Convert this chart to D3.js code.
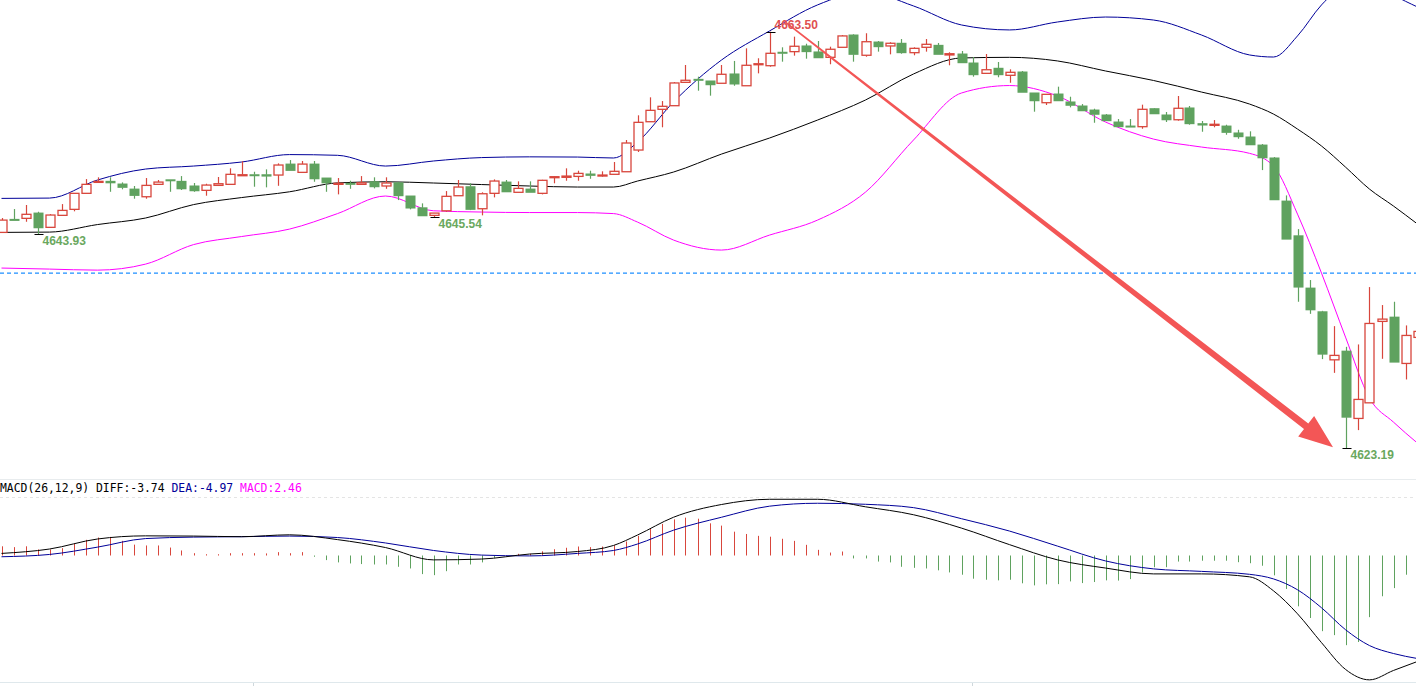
<!DOCTYPE html>
<html><head><meta charset="utf-8">
<script src="https://cdn.jsdelivr.net/npm/d3@7"></script>
<style>html,body{margin:0;padding:0;background:#fff;overflow:hidden}</style>
</head><body>
<svg id="c" width="1416" height="686"></svg>
<script>
// ---- data ----
const open  = [4644.08,4645.34,4645.44,4645.95,4644.57,4645.73,4646.31,4647.86,4648.92,4649.02,4648.76,4648.27,4647.53,4648.73,4649.17,4649.02,4648.57,4648.15,4648.63,4648.73,4649.60,4649.66,4649.66,4649.63,4650.69,4649.89,4650.69,4649.34,4648.73,4648.83,4648.73,4648.98,4648.57,4648.88,4647.60,4646.46,4645.73,4646.17,4647.63,4648.50,4646.37,4647.86,4648.95,4647.96,4648.27,4647.86,4649.41,4649.41,4649.50,4649.73,4649.56,4649.70,4649.95,4652.05,4654.79,4655.99,4656.34,4658.60,4658.89,4658.73,4658.51,4659.41,4658.27,4660.35,4660.21,4661.51,4661.57,4662.12,4661.54,4661.02,4661.99,4663.18,4661.22,4662.50,4662.12,4662.38,4661.47,4661.99,4662.18,4661.25,4661.34,4660.47,4659.47,4659.96,4659.28,4659.60,4657.57,4656.63,4657.47,4656.70,4656.31,4655.92,4655.44,4654.76,4654.37,4654.31,4656.05,4655.44,4654.98,4656.12,4654.60,4654.44,4654.37,4653.70,4653.31,4652.53,4651.28,4647.11,4643.75,4638.69,4636.40,4631.75,4632.59,4626.08,4627.59,4635.47,4635.88,4631.40,4633.92];
const close = [4645.27,4645.24,4645.83,4644.53,4645.76,4646.21,4647.86,4648.73,4649.02,4648.88,4648.44,4647.66,4648.63,4648.95,4649.12,4648.30,4648.11,4648.66,4648.79,4649.70,4649.66,4649.60,4649.53,4650.60,4650.08,4650.69,4649.27,4648.88,4648.83,4648.73,4648.88,4648.50,4648.86,4647.63,4646.44,4645.69,4645.95,4647.57,4648.47,4646.31,4647.82,4649.05,4648.01,4648.34,4647.96,4649.12,4649.47,4649.53,4649.79,4649.60,4649.63,4649.99,4652.73,4654.73,4655.89,4656.28,4658.54,4658.80,4658.80,4658.37,4659.38,4658.44,4660.25,4660.40,4661.41,4661.41,4662.09,4661.57,4660.98,4661.80,4663.09,4661.31,4662.53,4662.05,4662.38,4661.47,4661.89,4662.28,4661.31,4661.37,4660.50,4659.34,4659.82,4659.34,4659.57,4657.64,4656.82,4657.44,4656.82,4656.38,4655.85,4655.51,4654.89,4654.31,4654.31,4655.99,4655.56,4654.98,4656.09,4654.60,4654.47,4654.54,4653.76,4653.34,4652.56,4651.30,4647.24,4643.43,4638.79,4636.59,4632.30,4632.18,4626.20,4627.92,4635.27,4635.69,4631.53,4634.11,4634.50];
const high  = [4645.47,4646.34,4646.73,4646.08,4645.85,4646.82,4647.86,4649.24,4649.41,4649.41,4648.92,4648.57,4649.34,4649.15,4649.17,4649.53,4648.86,4648.79,4649.44,4650.28,4650.96,4649.95,4650.18,4650.76,4651.08,4650.99,4650.99,4649.34,4649.34,4649.08,4649.53,4649.41,4649.41,4648.98,4647.60,4646.89,4645.95,4648.08,4649.15,4648.83,4647.96,4649.21,4649.15,4649.02,4649.02,4649.17,4649.53,4650.28,4650.05,4650.05,4649.99,4650.89,4653.02,4655.41,4657.15,4656.79,4658.63,4660.28,4659.15,4658.73,4660.28,4660.67,4661.89,4660.93,4663.50,4661.99,4663.02,4662.34,4662.60,4662.05,4663.18,4663.25,4663.35,4662.60,4662.48,4662.79,4661.99,4662.79,4662.41,4661.51,4661.63,4661.05,4661.34,4660.57,4659.86,4659.70,4657.57,4657.44,4658.18,4657.21,4656.50,4656.05,4655.53,4655.05,4655.05,4656.44,4656.12,4655.73,4657.28,4656.31,4654.86,4654.95,4654.50,4654.01,4653.86,4652.63,4651.37,4647.66,4644.40,4639.47,4636.49,4635.01,4633.01,4633.24,4638.79,4637.05,4637.37,4635.08,4635.11];
const low   = [4644.02,4645.24,4645.11,4643.93,4644.57,4645.73,4646.12,4647.86,4648.92,4648.01,4648.25,4647.34,4647.34,4648.73,4648.01,4648.18,4648.01,4647.63,4648.63,4648.73,4649.60,4648.50,4648.44,4648.59,4650.08,4649.89,4648.98,4648.01,4647.76,4648.30,4648.73,4648.34,4648.30,4647.21,4646.31,4645.69,4645.54,4646.08,4647.63,4646.24,4645.73,4647.47,4648.01,4647.96,4647.96,4647.76,4648.83,4649.08,4649.08,4649.27,4649.47,4649.70,4649.95,4651.86,4654.79,4654.25,4656.34,4658.60,4657.79,4657.31,4658.51,4658.27,4658.27,4659.47,4660.11,4660.60,4661.18,4660.89,4660.98,4660.35,4661.99,4660.60,4661.08,4661.57,4661.31,4661.37,4661.22,4661.57,4661.31,4660.25,4660.50,4659.15,4659.47,4659.09,4658.56,4657.64,4655.76,4656.41,4656.82,4656.18,4655.85,4654.69,4654.89,4654.31,4654.31,4654.11,4655.56,4654.76,4654.89,4654.50,4653.82,4654.25,4653.53,4653.14,4652.56,4650.11,4647.24,4643.43,4637.37,4636.20,4631.82,4630.49,4623.19,4624.95,4627.59,4631.85,4631.53,4629.85,4633.66];
const sampleIdx = [0,4,8,12,16,20,24,28,32,36,40,44,48,51,53,56,60,64,68,72,76,80,84,88,92,96,100,104,106,108,110,112,114,116,118];
const bollUpper = [4647.37,4647.40,4649.15,4650.21,4650.50,4650.89,4651.61,4651.54,4650.50,4650.99,4651.32,4651.39,4651.37,4651.28,4652.82,4656.70,4660.76,4663.57,4666.09,4667.34,4665.99,4664.15,4663.67,4664.44,4664.92,4664.63,4663.18,4661.25,4661.05,4663.09,4666.09,4668.02,4668.51,4667.05,4665.89];
const bollMid   = [4644.08,4644.11,4644.84,4645.47,4646.77,4647.45,4648.01,4648.87,4648.98,4648.86,4648.71,4648.57,4648.47,4648.47,4649.05,4649.92,4651.66,4653.21,4654.95,4656.89,4659.41,4660.96,4661.02,4660.67,4659.70,4658.78,4657.66,4656.50,4655.53,4654.08,4652.44,4650.40,4648.27,4646.63,4644.89];
const bollLower = [4640.63,4640.53,4640.43,4641.01,4642.90,4643.68,4644.40,4645.90,4647.60,4646.17,4646.05,4646.00,4646.00,4645.90,4645.08,4643.34,4642.37,4643.82,4645.27,4647.98,4653.02,4657.57,4658.29,4657.28,4654.76,4653.11,4652.34,4651.73,4650.50,4645.85,4640.14,4633.95,4628.04,4625.72,4623.69];
const diff = [0.10,0.31,0.79,0.94,0.93,0.90,0.99,0.76,0.38,-0.21,-0.17,0.07,0.19,0.48,0.98,1.83,2.44,2.69,2.69,2.33,1.95,1.31,0.52,-0.21,-0.60,-0.88,-0.88,-1.02,-1.69,-2.79,-4.17,-5.45,-5.95,-5.50,-5.07];
const dea  = [-0.06,0.05,0.40,0.81,0.88,0.90,0.93,0.86,0.60,0.24,0.02,-0.02,0.10,0.24,0.55,1.21,1.83,2.36,2.50,2.45,2.29,1.76,1.17,0.45,-0.26,-0.64,-0.76,-0.90,-1.12,-1.64,-2.50,-3.55,-4.31,-4.69,-4.93];
const macdHist = [0.44,0.40,0.44,0.29,0.29,0.35,0.56,0.75,0.86,0.89,0.70,0.52,0.48,0.48,0.38,0.24,0.11,0.06,0.06,0.11,0.11,0.11,0.10,0.16,0.11,0.16,-0.06,-0.22,-0.33,-0.38,-0.41,-0.43,-0.43,-0.54,-0.62,-0.89,-0.94,-0.75,-0.43,-0.43,-0.33,-0.11,0.02,0.08,0.08,0.20,0.30,0.37,0.43,0.40,0.43,0.49,0.67,0.94,1.30,1.51,1.73,1.81,1.76,1.54,1.43,1.14,1.03,0.94,0.90,0.80,0.70,0.51,0.27,0.14,0.19,-0.14,-0.14,-0.29,-0.33,-0.54,-0.59,-0.62,-0.71,-0.81,-0.92,-1.11,-1.16,-1.19,-1.16,-1.33,-1.43,-1.38,-1.37,-1.24,-1.32,-1.27,-1.19,-1.20,-1.13,-0.81,-0.56,-0.56,-0.29,-0.29,-0.25,-0.25,-0.25,-0.32,-0.37,-0.49,-0.95,-1.60,-2.43,-2.99,-3.62,-3.81,-4.29,-4.14,-2.95,-1.95,-1.56,-0.92,2.46];
const refPrice = 4640.14;
const extremes = [{i:3,p:4643.93,hi:false,label:"4643.93"},{i:36,p:4645.54,hi:false,label:"4645.54"},{i:64,p:4663.50,hi:true,label:"4663.50"},{i:112,p:4623.19,hi:false,label:"4623.19"}];
const arrowFrom = {i:65.3,p:4664.44}, arrowTo = {i:110.96,p:4623.3};
const timeTicks = [21,81];
const macdTitle = [{t:"MACD(26,12,9) DIFF:-3.74 ",c:"#000"},{t:"DEA:-4.97 ",c:"#000099"},{t:"MACD:2.46",c:"#ff00ff"}];

// ---- drawing ----
const svg = d3.select("#c");
const x = d3.scaleLinear().domain([0,118]).range([1.5,1417.5]);
const y = d3.scaleLinear().domain([4623.19,4663.50]).range([448.3,31.7]);
const ym = d3.scaleLinear().domain([-5,0]).range([660,555.5]);
const RED="#d8463c", GREEN="#5fa25f";

const defs = svg.append("defs");
defs.append("clipPath").attr("id","main").append("rect").attr("x",0).attr("y",0).attr("width",1416).attr("height",478);
defs.append("clipPath").attr("id","sub").append("rect").attr("x",0).attr("y",498).attr("width",1416).attr("height",184);

const g = svg.append("g").attr("clip-path","url(#main)");
g.append("line").attr("x1",0).attr("x2",1416).attr("y1",y(refPrice)).attr("y2",y(refPrice))
 .attr("stroke","#1e8fff").attr("stroke-width",1.2).attr("stroke-dasharray","4,3");
const bl = arr => d3.line().x((d,k)=>x(sampleIdx[k])).y(d=>y(d)).curve(d3.curveMonotoneX)(arr);
g.append("path").attr("d",bl(bollUpper)).attr("fill","none").attr("stroke","#000099").attr("stroke-width",1);
g.append("path").attr("d",bl(bollMid)).attr("fill","none").attr("stroke","#000").attr("stroke-width",1);
g.append("path").attr("d",bl(bollLower)).attr("fill","none").attr("stroke","#ff00ff").attr("stroke-width",1);
const idx = d3.range(open.length);
const bw = 9;
idx.forEach(i=>{
  const up = close[i]>=open[i];
  const col = up?RED:GREEN;
  const top = y(Math.max(open[i],close[i])), bot = y(Math.min(open[i],close[i]));
  const cx = Math.round(x(i))+0.5;
  g.append("line").attr("x1",cx).attr("x2",cx).attr("y1",y(high[i])).attr("y2",top).attr("stroke",col).attr("stroke-width",1.2);
  g.append("line").attr("x1",cx).attr("x2",cx).attr("y1",bot).attr("y2",y(low[i])).attr("stroke",col).attr("stroke-width",1.2);
  const h = Math.max(bot-top,1);
  if(up) g.append("rect").attr("x",cx-bw/2).attr("y",top).attr("width",bw).attr("height",h)
          .attr("fill","#fff").attr("stroke",col).attr("stroke-width",1.3);
  else g.append("rect").attr("x",cx-bw/2-0.5).attr("y",top-0.5).attr("width",bw+1).attr("height",h+1).attr("fill",col);
});
(function(){
  const x0=x(arrowFrom.i), y0=y(arrowFrom.p), x1=x(arrowTo.i), y1=y(arrowTo.p);
  const dx=x1-x0, dy=y1-y0, L=Math.hypot(dx,dy), ux=dx/L, uy=dy/L, nx=-uy, ny=ux;
  const hl=34, hw=13, w0=0.8, w1=3.5;
  const bx=x1-ux*hl, by=y1-uy*hl;
  const pts=[[x0+nx*w0,y0+ny*w0],[bx+nx*w1,by+ny*w1],[bx+nx*hw,by+ny*hw],[x1,y1],[bx-nx*hw,by-ny*hw],[bx-nx*w1,by-ny*w1],[x0-nx*w0,y0-ny*w0]];
  g.append("polygon").attr("points",pts.map(p=>p.join(",")).join(" ")).attr("fill","#f35656");
})();
extremes.forEach(e=>{
  const cx=Math.round(x(e.i))+0.5, yy=y(e.p);
  g.append("line").attr("x1",cx-4).attr("x2",cx+5).attr("y1",Math.round(yy)+0.5).attr("y2",Math.round(yy)+0.5).attr("stroke","#000");
  g.append("text").attr("x",cx+4).attr("y",e.hi?yy-3:yy+11).text(e.label)
   .attr("font-family","Liberation Sans, Arial, sans-serif").attr("font-size",12).attr("font-weight","bold")
   .attr("fill",e.hi?"#e05050":"#6aa85e");
});

svg.append("line").attr("x1",0).attr("x2",1416).attr("y1",479.5).attr("y2",479.5).attr("stroke","#e8ecee");
svg.append("line").attr("x1",0).attr("x2",1416).attr("y1",497.5).attr("y2",497.5).attr("stroke","#e4e4e4").attr("stroke-dasharray","3,3");
svg.append("line").attr("x1",0).attr("x2",1416).attr("y1",682.5).attr("y2",682.5).attr("stroke","#dfe8ec");
timeTicks.forEach(t=>{svg.append("line").attr("x1",Math.round(x(t))-0.5).attr("x2",Math.round(x(t))-0.5).attr("y1",683).attr("y2",686).attr("stroke","#cfd8dc");});
const tt = svg.append("text").attr("x",0).attr("y",492).attr("font-family","DejaVu Sans Mono, monospace").attr("font-size",11.4);
macdTitle.forEach(s=>tt.append("tspan").attr("fill",s.c).text(s.t));

const gm = svg.append("g").attr("clip-path","url(#sub)");
idx.forEach(i=>{
  const v=macdHist[i], cx=Math.round(x(i))+0.5;
  gm.append("line").attr("x1",cx).attr("x2",cx).attr("y1",ym(0)).attr("y2",ym(v)).attr("stroke",v>=0?RED:GREEN).attr("stroke-width",1);
});
const ml = arr => d3.line().x((d,k)=>x(sampleIdx[k])).y(d=>ym(d)).curve(d3.curveMonotoneX)(arr);
gm.append("path").attr("d",ml(dea)).attr("fill","none").attr("stroke","#000099").attr("stroke-width",1);
gm.append("path").attr("d",ml(diff)).attr("fill","none").attr("stroke","#000").attr("stroke-width",1);
</script>
</body></html>
